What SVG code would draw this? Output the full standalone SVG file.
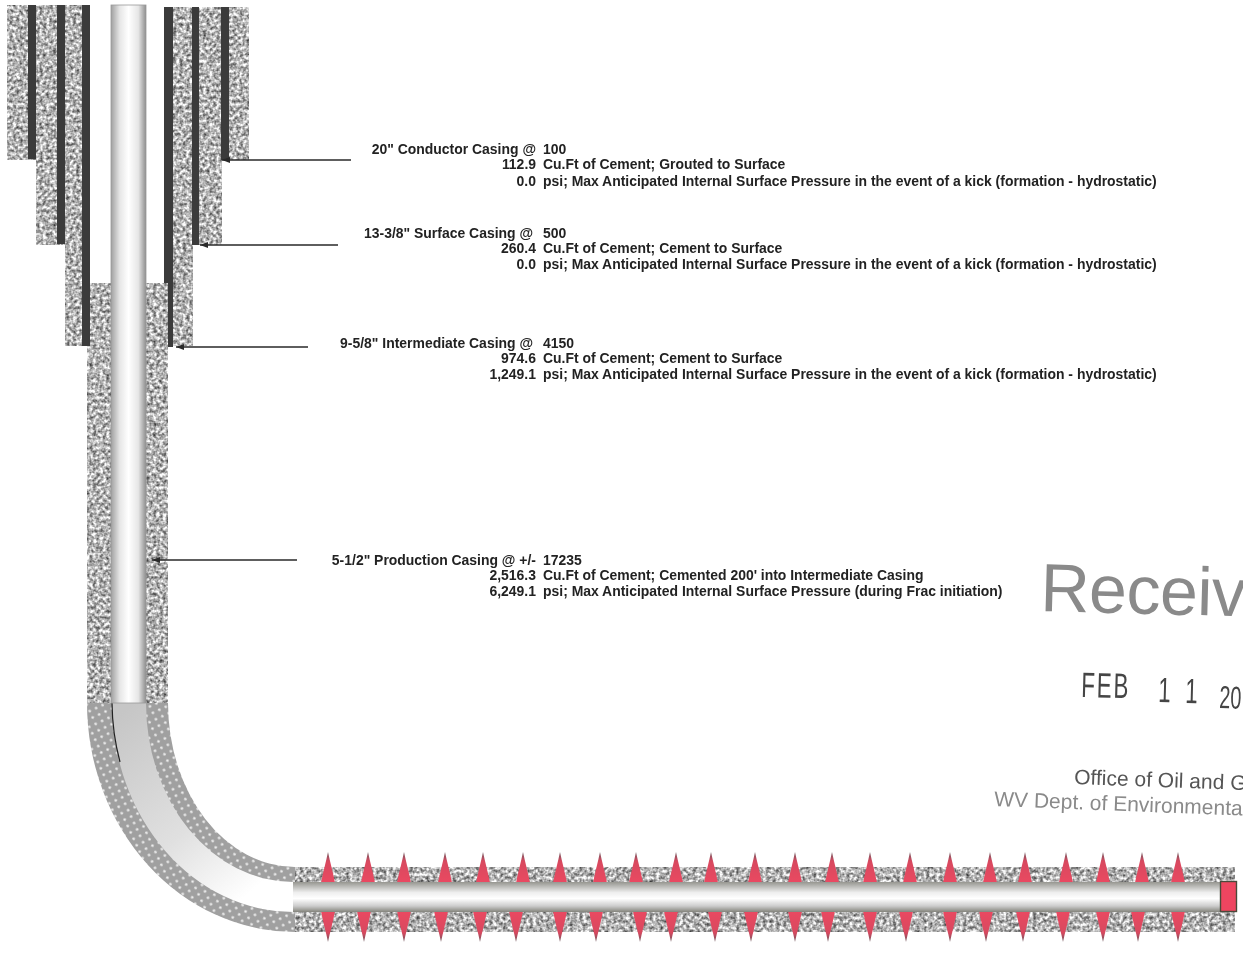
<svg xmlns="http://www.w3.org/2000/svg" width="1243" height="953" viewBox="0 0 1243 953">
<style>
text{font-family:"Liberation Sans",Arial,sans-serif}
.l{font-size:13.95px;font-weight:700;fill:#222}
.r{text-anchor:end}
.casing{fill:#3a3a3a}
.conn{stroke:#2a2a2a;stroke-width:1.7;fill:none;marker-end:url(#arrow)}
.stamp{fill:#8a8a8a}
</style>
<defs>
<marker id="arrow" markerUnits="userSpaceOnUse" markerWidth="10" markerHeight="8" refX="9" refY="4" orient="auto"><path d="M9,4L1,1V7Z" fill="#2a2a2a"/></marker>
<filter id="speck" filterUnits="userSpaceOnUse" x="0" y="0" width="1243" height="953" color-interpolation-filters="sRGB">
<feTurbulence type="fractalNoise" baseFrequency=".3" numOctaves="2" seed="5" result="n"/>
<feColorMatrix in="n" values="1.25 0 0 0 .08 1.25 0 0 0 .08 1.25 0 0 0 .08 0 0 0 0 1"/>
<feGaussianBlur stdDeviation=".5"/>
<feComposite in2="SourceGraphic" operator="in"/>
</filter>
<filter id="soft" filterUnits="userSpaceOnUse" x="0" y="0" width="1243" height="953"><feGaussianBlur stdDeviation=".4"/></filter>
<pattern id="dots" patternUnits="userSpaceOnUse" width="10" height="10" patternTransform="rotate(20)">
<rect width="10" height="10" fill="#a0a0a0"/><circle cx="2.5" cy="2.5" r="1.3" fill="#f0f0f0"/><circle cx="7.5" cy="7.5" r="1.3" fill="#f0f0f0"/>
</pattern>
<linearGradient id="tubeV" x1="0" x2="1" y1="0" y2="0"><stop offset="0" stop-color="#a0a0a0"/><stop offset=".25" stop-color="#e6e6e6"/><stop offset=".5" stop-color="#fff"/><stop offset=".78" stop-color="#e6e6e6"/><stop offset="1" stop-color="#8e8e8e"/></linearGradient>
<linearGradient id="tubeH" x1="0" x2="0" y1="0" y2="1"><stop offset="0" stop-color="#969690"/><stop offset=".35" stop-color="#eee"/><stop offset=".55" stop-color="#fff"/><stop offset=".8" stop-color="#ccc"/><stop offset="1" stop-color="#84847c"/></linearGradient>
<linearGradient id="bend" gradientUnits="userSpaceOnUse" x1="125" y1="710" x2="265" y2="880"><stop offset="0" stop-color="#c6c6c6"/><stop offset=".6" stop-color="#e0e0e0"/><stop offset="1" stop-color="#fff"/></linearGradient>
<linearGradient id="spikeT" x1="0" x2="0" y1="0" y2="1"><stop offset="0" stop-color="#6a5a60"/><stop offset=".3" stop-color="#d8485f"/><stop offset="1" stop-color="#ea4a62"/></linearGradient>
<linearGradient id="spikeB" x1="0" x2="0" y1="0" y2="1"><stop offset="0" stop-color="#ea4a62"/><stop offset=".7" stop-color="#d8485f"/><stop offset="1" stop-color="#6a5a60"/></linearGradient>
<path id="up" d="M0,852C2,862 5,872 7,883H-7C-5,872 -2,862 0,852Z" fill="url(#spikeT)"/>
<path id="down" d="M0,942C2,932 5,922 7,911H-7C-5,922 -2,932 0,942Z" fill="url(#spikeB)"/>
</defs>

<rect width="1243" height="953" fill="#fff"/>
<g filter="url(#soft)">
<g id="cement" filter="url(#speck)" fill="#888">
<rect x="7" y="5" width="29" height="155"/>
<rect x="36" y="5" width="29" height="240"/>
<rect x="65" y="5" width="25" height="341"/>
<rect x="87" y="283" width="81" height="425"/>
<rect x="172" y="7" width="21" height="339"/>
<rect x="193" y="7" width="29" height="238"/>
<rect x="222" y="7" width="27" height="153"/>
<rect x="295" y="867" width="940" height="65"/>
</g>

<g id="conductor-casing"><rect class="casing" x="28" y="5" width="8" height="154"/><rect class="casing" x="221" y="7" width="8" height="153"/></g>
<g id="surface-casing"><rect class="casing" x="57" y="5" width="8" height="239"/><rect class="casing" x="192" y="7" width="7" height="238"/></g>
<g id="intermediate-casing"><rect class="casing" x="82" y="5" width="8" height="341"/><rect class="casing" x="164" y="7" width="9" height="276"/><rect class="casing" x="168" y="283" width="5" height="64"/></g>

<g id="bend-section">
<path d="M87,703A208,229 0 0 0 295,932V867A127,164 0 0 1 168,703Z" fill="url(#dots)"/>
<path d="M112,703A181,209 0 0 0 293,912V882A147,179 0 0 1 146,703Z" fill="url(#bend)"/>
<path d="M112,703A181,209 0 0 0 120,762" fill="none" stroke="#222" stroke-width="1.2"/>
</g>

<g id="production-casing">
<rect x="111" y="5" width="35" height="698" fill="url(#tubeV)" stroke="#999" stroke-width=".8"/>
<use href="#up" x="328"/><use href="#up" x="368"/><use href="#up" x="404"/><use href="#up" x="445"/><use href="#up" x="483"/><use href="#up" x="523"/><use href="#up" x="560"/><use href="#up" x="600"/><use href="#up" x="636"/><use href="#up" x="676"/><use href="#up" x="711"/><use href="#up" x="755"/><use href="#up" x="795"/><use href="#up" x="832"/><use href="#up" x="870"/><use href="#up" x="910"/><use href="#up" x="950"/><use href="#up" x="990"/><use href="#up" x="1025"/><use href="#up" x="1066"/><use href="#up" x="1103"/><use href="#up" x="1142"/><use href="#up" x="1178"/>
<use href="#down" x="328"/><use href="#down" x="364"/><use href="#down" x="404"/><use href="#down" x="441"/><use href="#down" x="480"/><use href="#down" x="516"/><use href="#down" x="560"/><use href="#down" x="596"/><use href="#down" x="640"/><use href="#down" x="671"/><use href="#down" x="715"/><use href="#down" x="751"/><use href="#down" x="795"/><use href="#down" x="828"/><use href="#down" x="870"/><use href="#down" x="906"/><use href="#down" x="950"/><use href="#down" x="986"/><use href="#down" x="1023"/><use href="#down" x="1063"/><use href="#down" x="1103"/><use href="#down" x="1138"/><use href="#down" x="1178"/>
<rect x="293" y="882" width="928" height="30" fill="url(#tubeH)"/>
<rect x="1220.500" y="881.500" width="16" height="30" fill="#ee4560" stroke="#4a4a3a" stroke-width="1.4"/>
</g>

<g id="connectors">
<path class="conn" d="M351,160H222"/>
<path class="conn" d="M338,245H200"/>
<path class="conn" d="M308,347H176"/>
<path class="conn" d="M297,560H152"/>
</g>

<g id="label-conductor">
<text class="l r" x="536" y="153.500">20" Conductor Casing @</text><text class="l" x="543" y="153.500">100</text>
<text class="l r" x="536" y="169">112.9</text><text class="l" x="543" y="169">Cu.Ft of Cement; Grouted to Surface</text>
<text class="l r" x="536" y="185.500">0.0</text><text class="l" x="543" y="185.500">psi; Max Anticipated Internal Surface Pressure in the event of a kick (formation - hydrostatic)</text>
</g>
<g id="label-surface">
<text class="l r" x="533" y="237.500">13-3/8" Surface Casing @</text><text class="l" x="543" y="237.500">500</text>
<text class="l r" x="536" y="252.500">260.4</text><text class="l" x="543" y="252.500">Cu.Ft of Cement; Cement to Surface</text>
<text class="l r" x="536" y="268.500">0.0</text><text class="l" x="543" y="268.500">psi; Max Anticipated Internal Surface Pressure in the event of a kick (formation - hydrostatic)</text>
</g>
<g id="label-intermediate">
<text class="l r" x="533" y="347.500">9-5/8" Intermediate Casing @</text><text class="l" x="543" y="347.500">4150</text>
<text class="l r" x="536" y="362.500">974.6</text><text class="l" x="543" y="362.500">Cu.Ft of Cement; Cement to Surface</text>
<text class="l r" x="536" y="378.500">1,249.1</text><text class="l" x="543" y="378.500">psi; Max Anticipated Internal Surface Pressure in the event of a kick (formation - hydrostatic)</text>
</g>
<g id="label-production">
<text class="l r" x="536" y="564.500">5-1/2" Production Casing @ +/-</text><text class="l" x="543" y="564.500">17235</text>
<text class="l r" x="536" y="580">2,516.3</text><text class="l" x="543" y="580">Cu.Ft of Cement; Cemented 200' into Intermediate Casing</text>
<text class="l r" x="536" y="595.500">6,249.1</text><text class="l" x="543" y="595.500">psi; Max Anticipated Internal Surface Pressure (during Frac initiation)</text>
</g>

<g id="received-stamp">
<text class="stamp" x="1040" y="611" font-size="68" transform="rotate(1.5 1040 611)" letter-spacing="-.5">Receiv</text>
<text font-size="36" fill="#444" transform="translate(1081 697) rotate(1.5) scale(.62 .98)" letter-spacing="3">FEB</text>
<text font-size="36" fill="#444" transform="translate(1158 702) rotate(1.5) scale(.62 .98)">1</text>
<text font-size="36" fill="#444" transform="translate(1185 703) rotate(1.5) scale(.62 .98)">1</text>
<text font-size="32" fill="#444" transform="translate(1219 708) rotate(2) scale(.62 1)">20</text>
<text x="1074" y="784" font-size="21" fill="#555" transform="rotate(2 1074 784)">Office of Oil and G</text>
<text x="994" y="806" font-size="21" fill="#8a8a8a" transform="rotate(2.2 994 806)">WV Dept. of Environmenta</text>
</g>
</g>
</svg>
